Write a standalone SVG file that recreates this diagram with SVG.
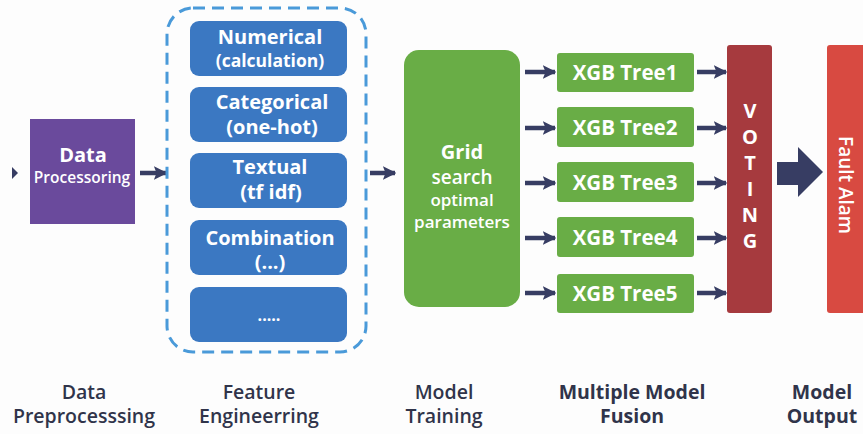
<svg xmlns="http://www.w3.org/2000/svg" width="863" height="434" viewBox="0 0 863 434">
  <style>
    .lbl { font-family: "Open Sans", "Liberation Sans", sans-serif; fill: #ffffff; text-anchor: middle; font-weight: 700; }
    .semi { font-weight: 600; }
    .cap { font-family: "Open Sans", "Liberation Sans", sans-serif; fill: #30344a; text-anchor: middle; font-size: 19.5px; font-weight: 600; }
    .capb { font-weight: 700; }
    .feat { fill: #3b78c2; }
    .tree { fill: #69ad46; }
    .link { stroke: #373d63; stroke-width: 4.5; fill: none; marker-end: url(#head); }
  </style>
  <defs>
    <marker id="head" viewBox="0 0 10 10" refX="9" refY="5" markerWidth="3" markerHeight="3.4" orient="auto" markerUnits="strokeWidth">
      <path d="M0,0 L10,5 L0,10 L2,5 Z" fill="#373d63"/>
    </marker>
  </defs>
  <rect width="863" height="434" fill="#fdfdfd"/>

  <g id="connectors">
    <path d="M12,167 L18,173 L12,179 Z" fill="#373d63"/>
    <line class="link" x1="140" y1="173" x2="166" y2="173"/>
    <line class="link" x1="370" y1="173" x2="395" y2="173"/>
    <line class="link" x1="525" y1="72" x2="555" y2="72"/>
    <line class="link" x1="525" y1="128" x2="555" y2="128"/>
    <line class="link" x1="525" y1="183" x2="555" y2="183"/>
    <line class="link" x1="525" y1="238" x2="555" y2="238"/>
    <line class="link" x1="525" y1="293" x2="555" y2="293"/>
    <line class="link" x1="697" y1="72" x2="726" y2="72"/>
    <line class="link" x1="697" y1="128" x2="726" y2="128"/>
    <line class="link" x1="697" y1="183" x2="726" y2="183"/>
    <line class="link" x1="697" y1="238" x2="726" y2="238"/>
    <line class="link" x1="697" y1="293" x2="726" y2="293"/>
    <path d="M777,162 L798,162 L798,147 L823,172 L798,197 L798,185 L777,185 Z" fill="#373d63"/>
  </g>

  <g id="data-processing">
    <rect x="30" y="119" width="105" height="105" fill="#6a4a9c"/>
    <text class="lbl" x="83" y="162" font-size="20">Data</text>
    <text class="lbl semi" x="82" y="183" font-size="15.5">Processoring</text>
  </g>

  <g id="feature-group">
    <rect x="167" y="8" width="199" height="344" rx="26" fill="none" stroke="#4a9ad9" stroke-width="3" stroke-dasharray="12 7"/>
  </g>

  <g id="numerical">
    <rect class="feat" x="190" y="21" width="157" height="55" rx="9"/>
    <text class="lbl" x="270" y="44" font-size="20">Numerical</text>
    <text class="lbl" x="270" y="67" font-size="17.5">(calculation)</text>
  </g>
  <g id="categorical">
    <rect class="feat" x="190" y="87" width="157" height="55" rx="9"/>
    <text class="lbl" x="272" y="109" font-size="20">Categorical</text>
    <text class="lbl" x="272" y="134" font-size="20">(one-hot)</text>
  </g>
  <g id="textual">
    <rect class="feat" x="190" y="153" width="157" height="55" rx="9"/>
    <text class="lbl" x="270" y="174" font-size="20">Textual</text>
    <text class="lbl" x="271" y="199" font-size="20">(tf idf)</text>
  </g>
  <g id="combination">
    <rect class="feat" x="190" y="220" width="157" height="55" rx="9"/>
    <text class="lbl" x="270" y="245" font-size="20">Combination</text>
    <text class="lbl" x="270" y="269" font-size="20">(...)</text>
  </g>
  <g id="more-features">
    <rect class="feat" x="190" y="287" width="157" height="55" rx="9"/>
    <text class="lbl" x="269" y="321" font-size="16">.....</text>
  </g>

  <g id="grid-search">
    <rect x="404" y="50" width="116" height="257" rx="15" fill="#69ad46"/>
    <text class="lbl" x="462" y="159" font-size="20">Grid</text>
    <text class="lbl semi" x="462" y="184" font-size="19">search</text>
    <text class="lbl semi" x="462" y="206" font-size="17">optimal</text>
    <text class="lbl semi" x="462" y="228" font-size="17">parameters</text>
  </g>

  <g id="tree1">
    <rect class="tree" x="557" y="53" width="137" height="39" rx="3"/>
    <text class="lbl" x="625" y="80" font-size="20.5">XGB Tree1</text>
  </g>
  <g id="tree2">
    <rect class="tree" x="557" y="107" width="137" height="40" rx="3"/>
    <text class="lbl" x="625" y="135" font-size="20.5">XGB Tree2</text>
  </g>
  <g id="tree3">
    <rect class="tree" x="557" y="162" width="137" height="40" rx="3"/>
    <text class="lbl" x="625" y="190" font-size="20.5">XGB Tree3</text>
  </g>
  <g id="tree4">
    <rect class="tree" x="557" y="217" width="137" height="40" rx="3"/>
    <text class="lbl" x="625" y="245" font-size="20.5">XGB Tree4</text>
  </g>
  <g id="tree5">
    <rect class="tree" x="557" y="274" width="137" height="39" rx="3"/>
    <text class="lbl" x="625" y="301" font-size="20.5">XGB Tree5</text>
  </g>

  <g id="voting">
    <rect x="727" y="45" width="45" height="268" rx="3" fill="#a63a3e"/>
    <text class="lbl" x="750" y="118" font-size="20">V</text>
    <text class="lbl" x="750" y="144" font-size="20">O</text>
    <text class="lbl" x="750" y="170" font-size="20">T</text>
    <text class="lbl" x="750" y="196" font-size="20">I</text>
    <text class="lbl" x="750" y="222" font-size="20">N</text>
    <text class="lbl" x="750" y="248" font-size="20">G</text>
  </g>

  <g id="fault-alarm">
    <rect x="827" y="45" width="50" height="268" rx="3" fill="#d84a41"/>
    <text class="lbl semi" font-size="19" transform="translate(839,185) rotate(90)">Fault Alam</text>
  </g>

  <g id="stage-captions">
    <text class="cap" x="84" y="399">Data</text>
    <text class="cap" x="84" y="423">Preprocesssing</text>
    <text class="cap" x="259" y="399">Feature</text>
    <text class="cap" x="259" y="423">Engineerring</text>
    <text class="cap" x="444" y="399">Model</text>
    <text class="cap" x="444" y="423">Training</text>
    <text class="cap capb" x="632" y="399">Multiple Model</text>
    <text class="cap capb" x="632" y="423">Fusion</text>
    <text class="cap capb" x="822" y="399">Model</text>
    <text class="cap capb" x="822" y="423">Output</text>
  </g>
</svg>
